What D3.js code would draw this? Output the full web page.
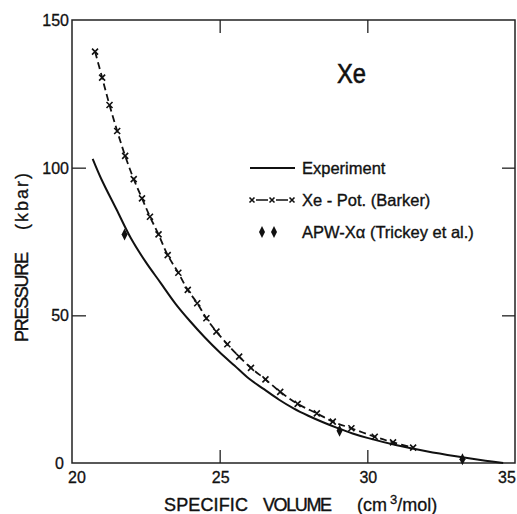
<!DOCTYPE html>
<html>
<head>
<meta charset="utf-8">
<script src="https://cdn.jsdelivr.net/npm/d3@7"></script>
<style>
  html, body { margin: 0; padding: 0; background: #fff; }
  svg { display: block; }
  text { font-family: "Liberation Sans", Arial, sans-serif; fill: #111; }
</style>
</head>
<body>
<svg id="chart" width="517" height="514"></svg>
<script>
// Xe isotherm: pressure (kbar) vs specific volume (cm3/mol)

const xTickValues = [20, 25, 30, 35];
const yTickValues = [0, 50, 100, 150];

// Experiment (solid curve)
const expVolume   = [20.7, 21.0, 21.5, 22.0, 22.5, 23.0, 23.5, 24.0, 24.5, 25.0, 25.5, 26.0, 26.5, 27.0, 27.5, 28.0, 28.5, 29.0, 29.5, 30.0, 31.0, 32.0, 33.0, 34.0, 34.6];
const expPressure = [103, 96, 86, 76, 68, 61, 54, 48, 42.5, 37.5, 33, 28.5, 25, 21.5, 18.5, 16, 13.8, 11.8, 10, 8.5, 6, 4, 2.3, 0.8, 0];

// Xe-Pot. (Barker), crosses joined by dashes
const potVolume   = [20.78, 21.02, 21.27, 21.53, 21.80, 22.09, 22.37, 22.64, 22.93, 23.24, 23.60, 23.92, 24.24, 24.55, 24.89, 25.26, 25.66, 26.06, 26.55, 27.05, 27.64, 28.29, 28.83, 29.46, 30.25, 30.87, 31.55];
const potPressure = [139.3, 130.5, 121.2, 112.4, 104.0, 96.1, 89.6, 83.4, 77.4, 70.4, 64.4, 58.6, 54.1, 49.0, 44.5, 40.2, 36.0, 32.2, 28.3, 24.1, 20.0, 16.8, 14.0, 11.75, 8.9, 7.0, 5.2];

// APW-Xα (Trickey et al.), diamonds
const apwVolume   = [21.78, 29.06, 33.22];
const apwPressure = [77.4, 10.9, 1.25];

const legendLabels = ["Experiment", "Xe - Pot. (Barker)", "APW-X\u03B1 (Trickey et al.)"];

const svg = d3.select("#chart");
const plotL = 72, plotR = 515, plotT = 20, plotB = 463;

const x = d3.scaleLinear().domain([20, 35]).range([plotL, plotR]);
const y = d3.scaleLinear().domain([0, 150]).range([plotB, plotT]);

// frame
svg.append("rect")
    .attr("x", plotL).attr("y", plotT)
    .attr("width", plotR - plotL).attr("height", plotB - plotT)
    .attr("fill", "none").attr("stroke", "#222").attr("stroke-width", 1.5);

// inward ticks on all four sides
const innerX = xTickValues.slice(1, -1), innerY = yTickValues.slice(1, -1);
function tickStyle(g) {
    g.select(".domain").remove();
    g.selectAll("line").attr("stroke", "#222").attr("stroke-width", 1.3);
    g.selectAll("text").remove();
}
svg.append("g").attr("transform", `translate(0,${plotB})`)
    .call(d3.axisBottom(x).tickValues(innerX).tickSize(-13)).call(tickStyle);
svg.append("g").attr("transform", `translate(0,${plotT})`)
    .call(d3.axisTop(x).tickValues(innerX).tickSize(-13)).call(tickStyle);
svg.append("g").attr("transform", `translate(${plotL},0)`)
    .call(d3.axisLeft(y).tickValues(innerY).tickSize(-14)).call(tickStyle);
svg.append("g").attr("transform", `translate(${plotR},0)`)
    .call(d3.axisRight(y).tickValues(innerY).tickSize(-13)).call(tickStyle);

// tick labels
svg.append("g").selectAll("text").data(xTickValues).join("text")
    .attr("x", d => x(d) + (d === 20 ? 5 : d === 35 ? -8 : 1))
    .attr("y", 483)
    .attr("text-anchor", "middle")
    .attr("font-size", 16)
    .attr("stroke", "#111").attr("stroke-width", 0.3)
    .text(d => d);
svg.append("g").selectAll("text").data(yTickValues).join("text")
    .attr("x", d => d === 0 ? 64 : 69)
    .attr("y", d => y(d) + 6)
    .attr("text-anchor", "end")
    .attr("font-size", 16)
    .attr("stroke", "#111").attr("stroke-width", 0.3)
    .text(d => d);

// axis titles
const titleFont = 18;
svg.append("text").attr("x", 164).attr("y", 511).attr("font-size", titleFont)
    .attr("stroke", "#111").attr("stroke-width", 0.4)
    .attr("textLength", 84).text("SPECIFIC");
svg.append("text").attr("x", 263).attr("y", 511).attr("font-size", titleFont)
    .attr("stroke", "#111").attr("stroke-width", 0.4)
    .attr("textLength", 69).text("VOLUME");
const unit = svg.append("text").attr("x", 357).attr("y", 511).attr("font-size", titleFont)
    .attr("stroke", "#111").attr("stroke-width", 0.3);
unit.append("tspan").text("(cm");
unit.append("tspan").attr("dx", 3).attr("dy", -7).attr("font-size", 13).text("3");
unit.append("tspan").attr("dy", 7).text("/mol)");

svg.append("text").attr("transform", "translate(28,342) rotate(-90)")
    .attr("font-size", titleFont).attr("stroke", "#111").attr("stroke-width", 0.4)
    .attr("textLength", 90).text("PRESSURE");
svg.append("text").attr("transform", "translate(28,230) rotate(-90)")
    .attr("font-size", titleFont).attr("stroke", "#111").attr("stroke-width", 0.3)
    .attr("textLength", 57).text("(kbar)");

// Xe label
svg.append("text").attr("x", 337).attr("y", 83).attr("font-size", 27)
    .attr("stroke", "#111").attr("stroke-width", 0.6)
    .attr("textLength", 29).attr("lengthAdjust", "spacingAndGlyphs").text("Xe");

// experiment curve
const expData = expVolume.map((v, i) => [v, expPressure[i]]);
svg.append("path").datum(expData)
    .attr("fill", "none").attr("stroke", "#111").attr("stroke-width", 2)
    .attr("d", d3.line().x(d => x(d[0])).y(d => y(d[1])).curve(d3.curveCatmullRom));

// Barker potential: dashed line + crosses
const potData = potVolume.map((v, i) => [v, potPressure[i]]);
svg.append("path").datum(potData)
    .attr("fill", "none").attr("stroke", "#111").attr("stroke-width", 1.8)
    .attr("stroke-dasharray", "7,4")
    .attr("d", d3.line().x(d => x(d[0])).y(d => y(d[1])).curve(d3.curveCatmullRom));

function cross(g, cx, cy, s) {
    g.append("path")
        .attr("d", `M${cx - s},${cy - s}L${cx + s},${cy + s}M${cx - s},${cy + s}L${cx + s},${cy - s}`)
        .attr("stroke", "#111").attr("stroke-width", 1.6).attr("fill", "none");
}
const crosses = svg.append("g");
potData.forEach(d => cross(crosses, x(d[0]), y(d[1]), 3));

// APW-Xα diamonds
function diamond(cx, cy) {
    return `M${cx},${cy - 6}L${cx + 3},${cy}L${cx},${cy + 6}L${cx - 3},${cy}Z`;
}
svg.append("g").selectAll("path").data(apwVolume).join("path")
    .attr("d", (v, i) => diamond(x(v), y(apwPressure[i])))
    .attr("fill", "#111");

// legend
const lg = svg.append("g");
lg.append("line").attr("x1", 250).attr("x2", 295).attr("y1", 168).attr("y2", 168)
    .attr("stroke", "#111").attr("stroke-width", 2);
lg.append("line").attr("x1", 252).attr("x2", 292).attr("y1", 200).attr("y2", 200)
    .attr("stroke", "#111").attr("stroke-width", 1.6).attr("stroke-dasharray", "0,4,12,8,12,4");
[252, 272, 292].forEach(cx => cross(lg, cx, 200, 2.5));
[262, 274].forEach(cx => lg.append("path").attr("d", diamond(cx, 232)).attr("fill", "#111"));
lg.selectAll("text").data(legendLabels).join("text")
    .attr("x", 302).attr("y", (d, i) => 174 + i * 32)
    .attr("font-size", 16.5)
    .attr("stroke", "#111").attr("stroke-width", 0.35)
    .text(d => d);
</script>
</body>
</html>
